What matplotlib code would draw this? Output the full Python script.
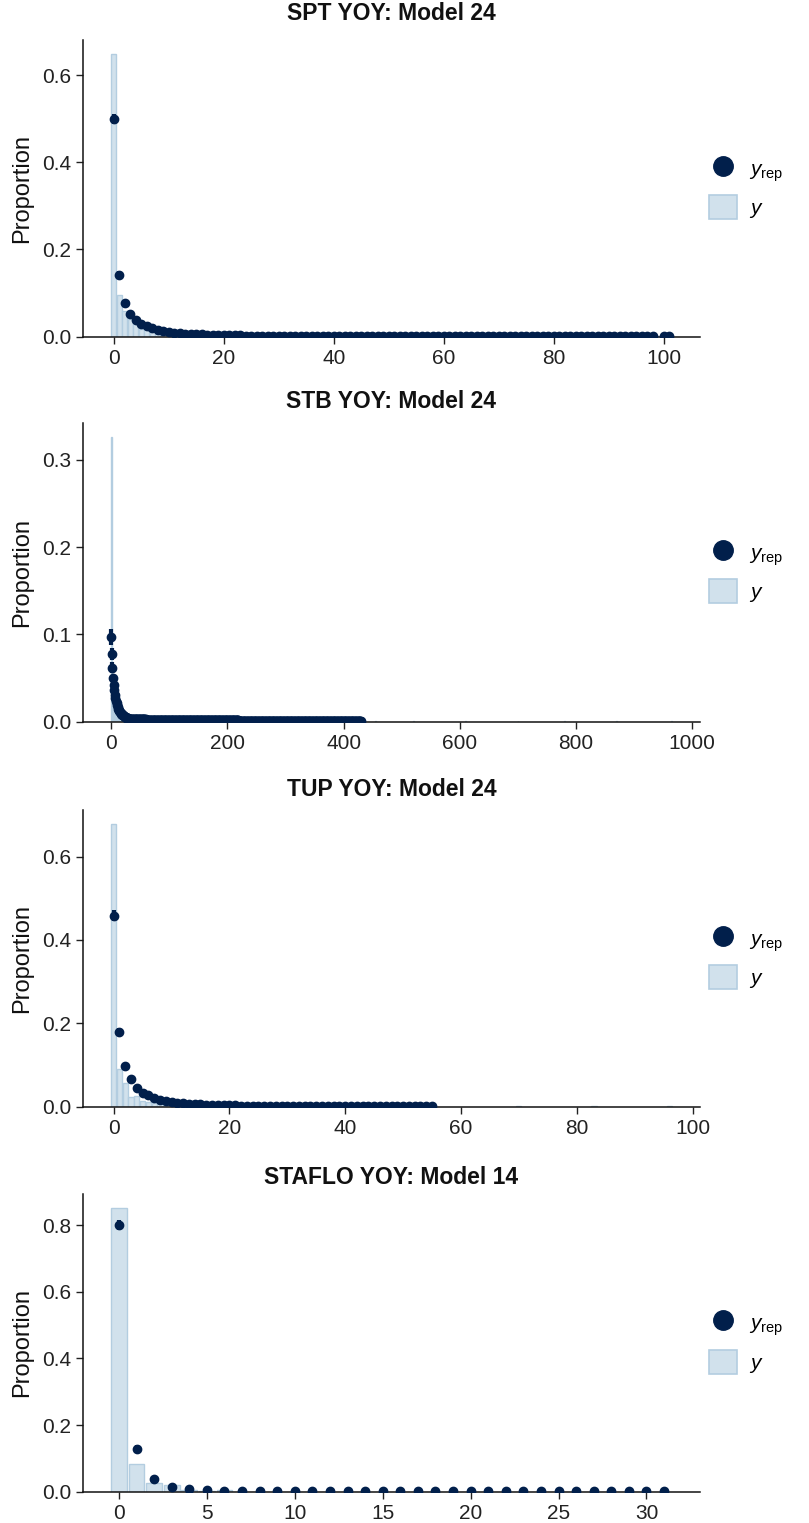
import numpy as np
import matplotlib
matplotlib.use("Agg")
import matplotlib.pyplot as plt
from matplotlib.lines import Line2D
from matplotlib.patches import Patch

plt.rcParams["font.family"] = ["Liberation Sans", "DejaVu Sans"]
plt.rcParams["mathtext.fontset"] = "custom"
plt.rcParams["mathtext.rm"] = "Liberation Sans"
plt.rcParams["mathtext.it"] = "Liberation Sans:italic"

dark = "#011f4b"
light_fill = "#d1e1ec"
light_edge = "#b3cde0"

# ---- SPT YOY: Model 24 ----
spt_title = "SPT YOY: Model 24"
spt_y_x = list(range(0, 102))
spt_y = ([0.648, 0.095, 0.060, 0.040, 0.030, 0.018, 0.015, 0.012, 0.009, 0.008,
          0.006, 0.005, 0.004, 0.004, 0.003, 0.003, 0.002, 0.002, 0.002, 0.002]
         + [0.001] * 30 + [0.0005] * 52)
spt_rep_x = list(range(0, 99)) + [100, 101]
spt_rep = ([0.499, 0.142, 0.078, 0.052, 0.038, 0.030, 0.024, 0.019, 0.016, 0.013,
            0.011, 0.0095, 0.0083, 0.0073, 0.0065, 0.0058, 0.0052, 0.0047, 0.0043, 0.0039,
            0.0036, 0.0033, 0.0031, 0.0029, 0.0027, 0.0025, 0.0024, 0.0022, 0.0021, 0.0020]
           + [0.0017] * 20 + [0.0012] * 30 + [0.0009] * 21)
spt_err_lo = [0.488, 0.134, 0.073, 0.048]
spt_err_hi = [0.511, 0.151, 0.083, 0.056]

# ---- STB YOY: Model 24 ----
stb_title = "STB YOY: Model 24"
stb_y_x = list(range(0, 120)) + [455, 520, 610, 700, 780, 870, 965]
stb_y = ([0.326, 0.040, 0.032, 0.028, 0.024, 0.021, 0.019, 0.017, 0.015, 0.013,
          0.012, 0.011, 0.010, 0.009, 0.009, 0.008, 0.008, 0.007, 0.007, 0.007]
         + [0.006] * 40 + [0.004] * 30 + [0.002] * 30
         + [0.0005, 0.0005, 0.0005, 0.0005, 0.0005, 0.0005, 0.0005])
stb_rep_x = list(range(0, 431))
stb_rep = ([0.097, 0.078, 0.062, 0.050, 0.042, 0.036, 0.031, 0.027, 0.024, 0.021,
            0.019, 0.017, 0.015, 0.0135, 0.012, 0.011, 0.010, 0.0092, 0.0085, 0.0078,
            0.0072, 0.0067, 0.0062, 0.0058, 0.0054, 0.0051, 0.0048, 0.0045, 0.0043, 0.0041]
           + [0.0035] * 30 + [0.0025] * 60 + [0.0018] * 100 + [0.0012] * 211)
stb_err_lo = [0.088, 0.071, 0.056]
stb_err_hi = [0.106, 0.085, 0.068]

# ---- TUP YOY: Model 24 ----
tup_title = "TUP YOY: Model 24"
tup_y_x = list(range(0, 40)) + [70, 83, 96]
tup_y = ([0.678, 0.090, 0.058, 0.024, 0.026, 0.014, 0.012, 0.010, 0.006, 0.005,
          0.004, 0.003, 0.003, 0.002, 0.002, 0.002, 0.002, 0.001, 0.001, 0.001]
         + [0.0008] * 20 + [0.0005, 0.0005, 0.0005])
tup_rep_x = list(range(0, 56))
tup_rep = ([0.458, 0.180, 0.098, 0.066, 0.046, 0.034, 0.027, 0.021, 0.017, 0.014,
            0.011, 0.0095, 0.0082, 0.0072, 0.0063, 0.0056, 0.0050, 0.0045, 0.0040, 0.0036,
            0.0033, 0.0030, 0.0028, 0.0026, 0.0024, 0.0022, 0.0021, 0.0020, 0.0019, 0.0018]
           + [0.0015] * 12 + [0.0011] * 14)
tup_err_lo = [0.446, 0.172, 0.092, 0.061]
tup_err_hi = [0.471, 0.189, 0.105, 0.071]

# ---- STAFLO YOY: Model 14 ----
staflo_title = "STAFLO YOY: Model 14"
staflo_y_x = [0, 1, 2, 3, 4, 5, 6]
staflo_y = [0.851, 0.083, 0.027, 0.020, 0.006, 0.003, 0.004]
staflo_rep_x = list(range(0, 32))
staflo_rep = ([0.800, 0.128, 0.037, 0.015, 0.007, 0.004, 0.003, 0.0025, 0.002, 0.002]
              + [0.0015] * 10 + [0.001] * 12)
staflo_err_lo = [0.786, 0.117, 0.032]
staflo_err_hi = [0.815, 0.139, 0.042]

panels = [
    (spt_title, spt_y_x, spt_y, spt_rep_x, spt_rep, spt_err_lo, spt_err_hi, [0, 20, 40, 60, 80, 100], [0, 0.2, 0.4, 0.6], 40, 336.7, 13),
    (stb_title, stb_y_x, stb_y, stb_rep_x, stb_rep, stb_err_lo, stb_err_hi, [0, 200, 400, 600, 800, 1000], [0, 0.1, 0.2, 0.3], 423, 721.7, 402),
    (tup_title, tup_y_x, tup_y, tup_rep_x, tup_rep, tup_err_lo, tup_err_hi, [0, 20, 40, 60, 80, 100], [0, 0.2, 0.4, 0.6], 810, 1106.7, 790),
    (staflo_title, staflo_y_x, staflo_y, staflo_rep_x, staflo_rep, staflo_err_lo, staflo_err_hi, [0, 5, 10, 15, 20, 25, 30], [0, 0.2, 0.4, 0.6, 0.8], 1194, 1491.7, 1178),
]

W, H = 809, 1523
fig = plt.figure(figsize=(W / 100, H / 100), dpi=100)

left_px, right_px = 83, 700
for title, yx, yv, rx, rv, elo, ehi, xt, yt, top_px, bot_px, title_px in panels:
    ax = fig.add_axes([left_px / W, 1 - bot_px / H, (right_px - left_px) / W, (bot_px - top_px) / H])
    ax.bar(yx, yv, width=0.9, color=light_fill, edgecolor=light_edge, linewidth=1.0, zorder=1)
    ax.vlines(rx[:len(elo)], elo, ehi, color=dark, linewidth=3.0, zorder=3)
    ax.plot(rx, rv, linestyle="none", marker="o", markersize=6, color=dark, zorder=4)

    lo = min(min(yx), min(rx)) - 0.45
    hi = max(max(yx), max(rx)) + 0.45
    pad = (hi - lo) * 0.05
    ax.set_xlim(lo - pad, hi + pad)
    ymax = max(max(yv), max(ehi))
    ax.set_ylim(0, ymax * 1.05)

    ax.set_xticks(xt)
    ax.set_yticks(yt)
    ax.set_yticklabels([f"{v:.1f}" for v in yt])
    ax.tick_params(labelsize=15, colors="#222222", length=5, width=1.0, direction="out")
    for s in ["top", "right"]:
        ax.spines[s].set_visible(False)
    for s in ["left", "bottom"]:
        ax.spines[s].set_linewidth(1.1)
        ax.spines[s].set_color("#111111")
    ax.set_ylabel("Proportion", fontsize=17, color="#111111", labelpad=6)

    fig.text((left_px + right_px) / 2 / W, 1 - title_px / H, title, ha="center", va="center",
             fontsize=16.5, fontweight="bold", color="#111111")

    handles = [
        Line2D([0], [0], linestyle="none", marker="o", markersize=14, color=dark),
        Patch(facecolor=light_fill, edgecolor=light_edge, linewidth=1.2),
    ]
    ax.legend(handles, [r"$y_{\mathrm{rep}}$", r"$y$"], loc="center left",
              bbox_to_anchor=(0.985, 0.5), frameon=False, fontsize=15,
              handlelength=1.3, handleheight=1.4, labelspacing=0.55, handletextpad=0.6)

fig.savefig("out.png", dpi=100)
